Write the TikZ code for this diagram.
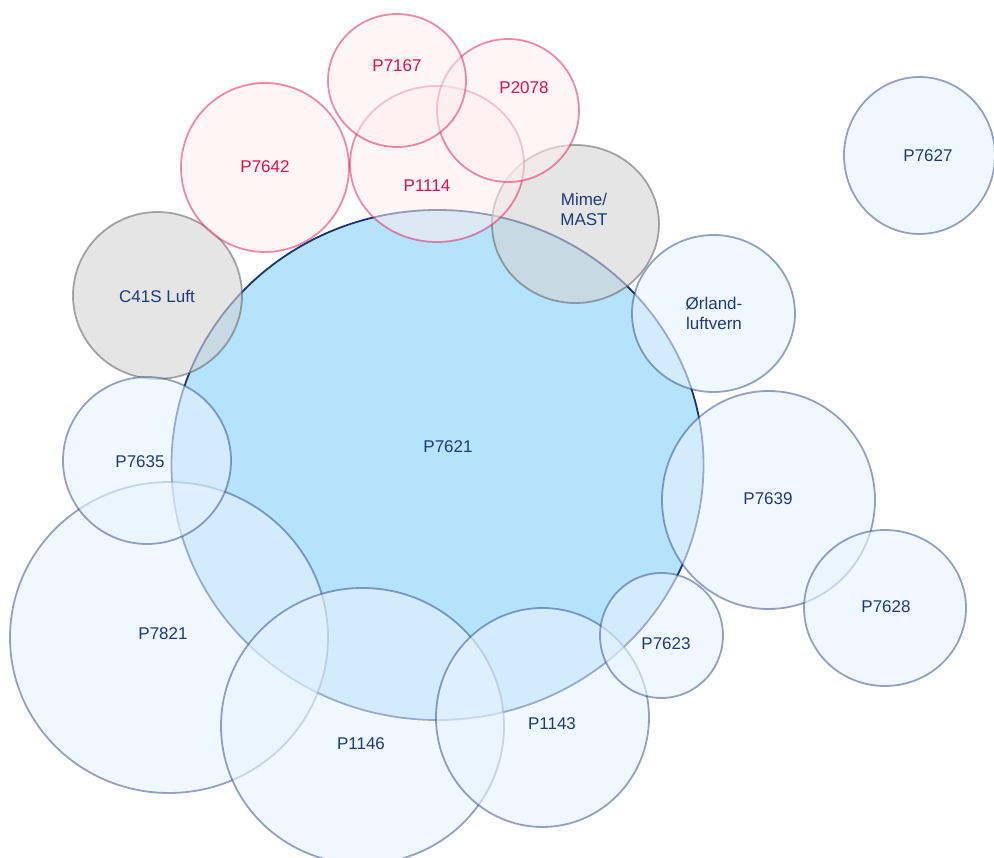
\documentclass[tikz,border=0pt]{standalone}
\usepackage{fontspec}
\setmainfont{Liberation Sans}
\usetikzlibrary{shapes.geometric}
\definecolor{navy}{HTML}{1B3478}
\definecolor{txtnavy}{HTML}{1F3A7A}
\definecolor{pblue}{HTML}{B5E3FC}
\definecolor{lblue}{HTML}{E6F3FF}
\definecolor{crim}{HTML}{E0104A}
\definecolor{pinkfill}{HTML}{FDEDEF}
\definecolor{grayfill}{HTML}{D3D3D3}
\definecolor{grayline}{HTML}{555555}
\tikzset{
  x=1pt, y=-1pt,
  bub/.style 2 args={ellipse, inner sep=0pt, outer sep=0pt, minimum width=#1pt, minimum height=#2pt},
  mainbub/.style={draw=navy, fill=pblue, line width=1.8pt},
  bluebub/.style={draw=navy, draw opacity=0.45, fill=lblue, fill opacity=0.62, line width=1.8pt},
  pinkbub/.style={draw=crim, draw opacity=0.48, fill=pinkfill, fill opacity=0.55, line width=1.8pt},
  graybub/.style={draw=grayline, draw opacity=0.5, fill=grayfill, fill opacity=0.6, line width=1.8pt},
  lbl/.style={text=txtnavy, font=\fontsize{17}{20}\selectfont, align=center, inner sep=0pt},
  plbl/.style={lbl, text=crim},
}
\begin{document}
\begin{tikzpicture}
\useasboundingbox (0,0) rectangle (994,858);
% circles
\node[bub={532}{510}, mainbub] (c7621) at (437.5,465) {};
\node[bub={167}{158}, graybub] (cmime) at (575.5,224) {};
\node[bub={169}{167}, graybub] (cc41s) at (157.5,295.5) {};
\node[bub={174}{156}, pinkbub] (c1114) at (437,164) {};
\node[bub={168}{169}, pinkbub] (c7642) at (265,167.5) {};
\node[bub={142}{143}, pinkbub] (c2078) at (508,110.5) {};
\node[bub={138}{133}, pinkbub] (c7167) at (397,80.5) {};
\node[bub={318}{311}, bluebub] (c7821) at (169,637.5) {};
\node[bub={168}{167}, bluebub] (c7635) at (147,460.5) {};
\node[bub={283}{276}, bluebub] (c1146) at (362.5,726) {};
\node[bub={213}{219}, bluebub] (c1143) at (542.5,717.5) {};
\node[bub={213}{218}, bluebub] (c7639) at (768.5,500) {};
\node[bub={162}{156}, bluebub] (c7628) at (885,608) {};
\node[bub={123}{125}, bluebub] (c7623) at (661.5,635.5) {};
\node[bub={163}{157}, bluebub] (corland) at (713.5,313.5) {};
\node[bub={151}{157}, bluebub] (c7627) at (919.5,155.5) {};
% labels
\node[lbl] (t7621) at (448,447) {P7621};
\node[plbl] (t7167) at (397,66) {P7167};
\node[plbl] (t2078) at (524,88) {P2078};
\node[plbl] (t7642) at (265,167) {P7642};
\node[plbl] (t1114) at (427,186) {P1114};
\node[lbl] (tmime) at (584,209.5) {Mime/\\MAST};
\node[lbl] (tc41s) at (157,296) {C41S Luft};
\node[lbl] (t7627) at (928,156) {P7627};
\node[lbl] (torland) at (714,313.5) {Ørland-\\luftvern};
\node[lbl] (t7635) at (140,462) {P7635};
\node[lbl] (t7639) at (768,499) {P7639};
\node[lbl] (t7821) at (163,634) {P7821};
\node[lbl] (t7628) at (886,607) {P7628};
\node[lbl] (t7623) at (666,644) {P7623};
\node[lbl] (t1143) at (552,724) {P1143};
\node[lbl] (t1146) at (361,744) {P1146};
\end{tikzpicture}
\end{document}
